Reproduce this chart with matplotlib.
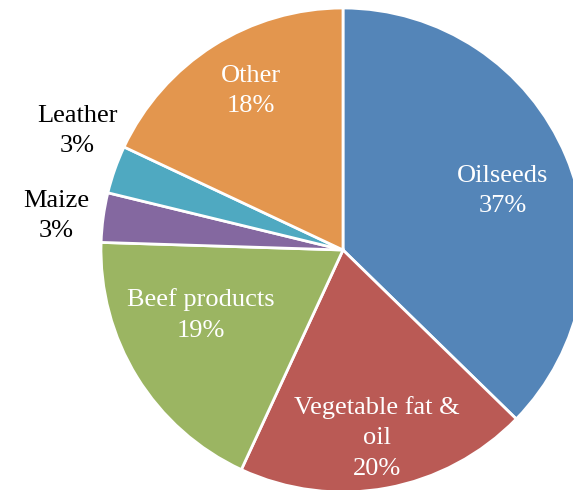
import matplotlib.pyplot as plt

categories = ['Oilseeds', 'Vegetable fat &\noil', 'Beef products', 'Maize', 'Leather', 'Other']
# wedge sizes read from the slice boundaries (labels show them rounded)
shares = [37.3, 19.6, 18.6, 3.3, 3.2, 18.0]
colors = ['#5485B8', '#BA5A55', '#9BB562', '#8468A0', '#4FA9C1', '#E3964E']

# label placement (pixel coords, y from bottom) and text colour
label_pos = [(503, 299), (377, 52), (201, 175), (56, 274), (77, 359), (251, 399)]
label_col = ['white', 'white', 'white', 'black', 'black', 'white']


def main():
    fig = plt.figure(figsize=(5.73, 4.90), dpi=100)
    ax = fig.add_axes([0, 0, 1, 1])

    ax.pie(shares, colors=colors, startangle=90, counterclock=False,
           center=(343, 240), radius=242, frame=True,
           wedgeprops={'edgecolor': 'white', 'linewidth': 2})
    ax.set_xlim(0, 573)
    ax.set_ylim(0, 490)
    ax.set_aspect('equal')
    ax.axis('off')

    for name, val, (x, y), c in zip(categories, shares, label_pos, label_col):
        ax.text(x, y, f'{name}\n{val:.0f}%', ha='center', va='center', color=c,
                fontsize=19, family='Liberation Serif', linespacing=1.5)

    plt.savefig('out.png', dpi=100)


if __name__ == "__main__":
    main()
